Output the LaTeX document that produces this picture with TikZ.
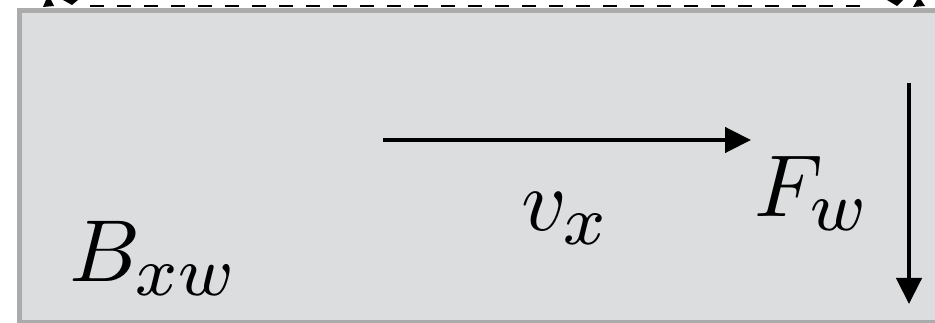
\documentclass[tikz,border=0pt]{standalone}
\usepackage{graphicx}
\usepackage{xcolor}
\usepackage{tikz}
\usetikzlibrary{
  arrows.meta,
  positioning
}
\DeclareMathSizes{10}{10}{7.8}{5}
\definecolor{PanelFill}{HTML}{DCDDDF}
\definecolor{PanelEdge}{HTML}{ABABAB}
\definecolor{VecBlack}{HTML}{000000}
\newcommand{\bigmath}[1]{\scalebox{8.8}{$#1$}}
\tikzset{
  every picture/.style = {line join=miter},
  panel/.style = {
    draw=PanelEdge,
    fill=PanelFill,
    line width=5pt
  },
  vec/.style = {
    -{Triangle[length=26pt,width=25pt]},
    draw=VecBlack,
    line width=4.5pt
  },
  gap line/.style = {
    draw=VecBlack,
    line width=2pt,
    dash pattern=on 14pt off 13pt
  },
  tip piece/.style = {fill=VecBlack},
  big math/.style = {
    inner sep=0pt,
    anchor=base west
  }
}

\begin{document}
\begin{tikzpicture}[x=1pt,y=-1pt]
  \useasboundingbox (0,0) rectangle (935,323);
  \clip (0,0) rectangle (935,323);

  % the slab
  \draw[panel] (19.5,10.5) rectangle (960,322.5);

  % gap above the slab
  \draw[gap line] (90,6) -- (870,6);
  \fill[tip piece] (43,7) -- (54,6) -- (51,0) -- (46,0) -- cycle;
  \fill[tip piece] (63,0) -- (78,0) -- (72,5) -- cycle;
  \fill[tip piece] (887,0) -- (903,0) -- (897,6) -- cycle;
  \fill[tip piece] (913,7) -- (925,6) -- (921,0) -- (917,0) -- cycle;

  % labels
  \node[big math] (Bxw) at (69,282) {\bigmath{B_{xw}}};
  \node[big math] (vx) at (521,231) {\bigmath{v_x}};
  \node[big math] (Fw) at (754,217) {\bigmath{F_w}};

  % velocity and force
  \coordinate (vstart) at (383,140);
  \coordinate (vend) at (751,140);
  \coordinate (fstart) at (909,83);
  \coordinate (fend) at (909,304);
  \draw[vec] (vstart) -- (vend);
  \draw[vec] (fstart) -- (fend);
\end{tikzpicture}
\end{document}
